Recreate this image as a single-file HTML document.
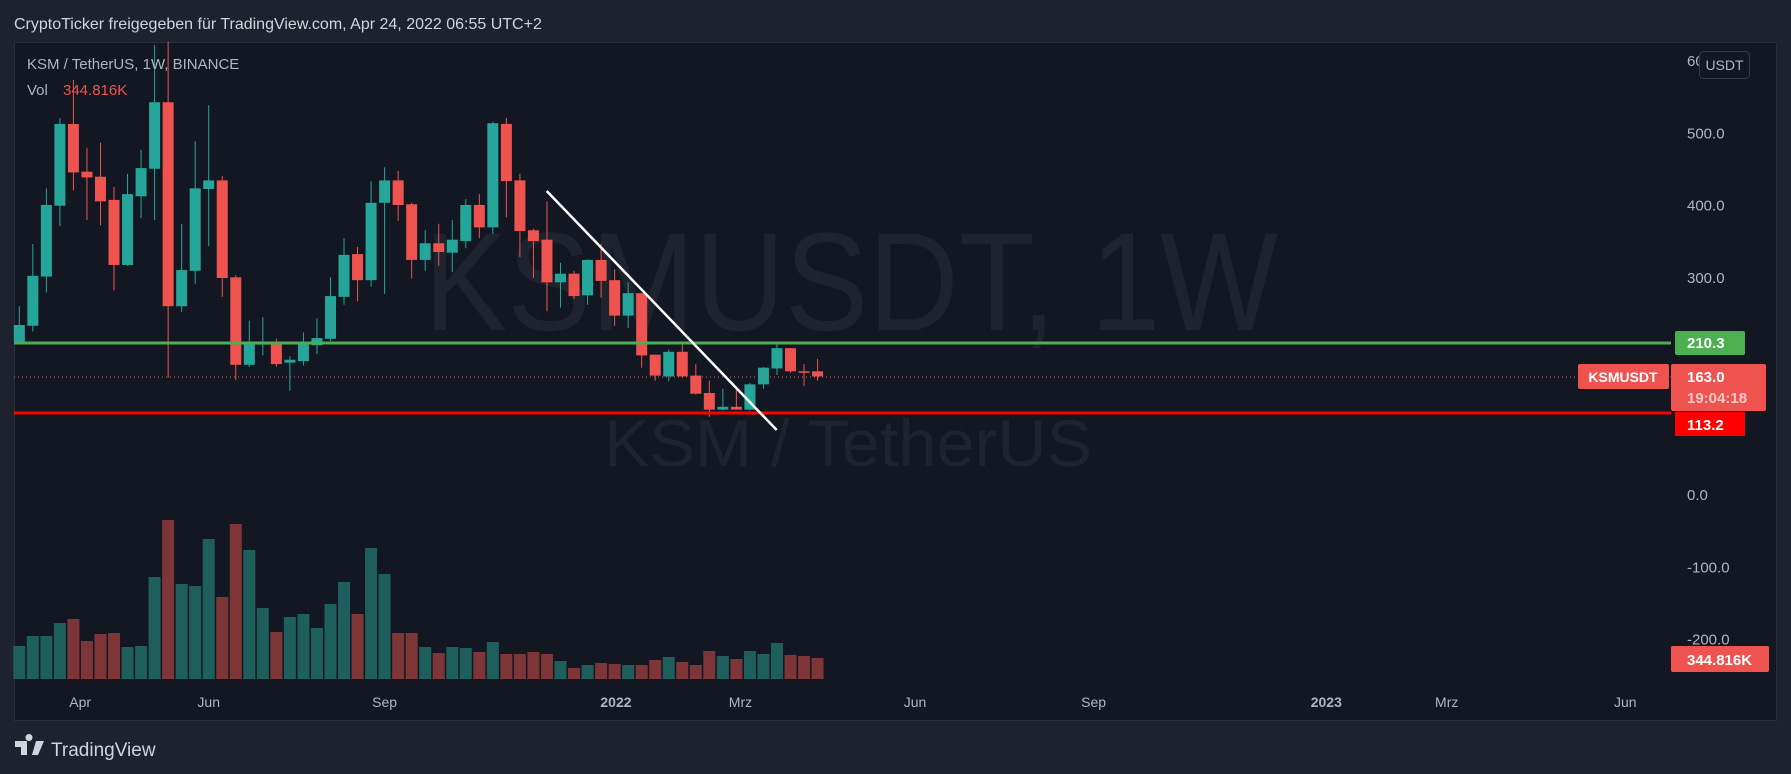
<!DOCTYPE html>
<html><head><meta charset="utf-8"><style>
html,body{margin:0;padding:0;background:#1e222d;width:1791px;height:774px;overflow:hidden;font-family:"Liberation Sans",sans-serif}
svg{position:absolute;left:0;top:0}
</style></head><body>
<svg id="chart" width="1791" height="774" viewBox="0 0 1791 774" xmlns="http://www.w3.org/2000/svg">
<rect x="0" y="0" width="1791" height="774" fill="#1e222d"/>
<text x="14" y="29" fill="#d1d4dc" font-size="16">CryptoTicker freigegeben für TradingView.com, Apr 24, 2022 06:55 UTC+2</text>
<rect x="14.5" y="42.5" width="1762" height="678" fill="#131722" stroke="#2a2e39"/>
<text x="424" y="330" fill="#1f232e" font-size="140" textLength="854" lengthAdjust="spacingAndGlyphs">KSMUSDT, 1W</text>
<text x="604" y="466" fill="#1f232e" font-size="66" textLength="488" lengthAdjust="spacingAndGlyphs">KSM / TetherUS</text>
<g id="vol"></g>
<g id="candles"></g>
<line x1="14" y1="377" x2="1671" y2="377" stroke="#ef5350" stroke-width="1" stroke-dasharray="1,3" id="lastline"/>
<line x1="14" y1="343" x2="1671" y2="343" stroke="#4caf50" stroke-width="3" id="greenline"/>
<line x1="14" y1="413" x2="1671" y2="413" stroke="#ff0000" stroke-width="3" id="redline"/>
<line x1="546.7" y1="191" x2="776.7" y2="430" stroke="#ffffff" stroke-width="2.5"/>
<g id="yaxis"></g>
<g id="xaxis"></g>
<text x="27" y="69" fill="#b2b5be" font-size="15">KSM / TetherUS, 1W, BINANCE</text>
<text x="27" y="95" fill="#b2b5be" font-size="15">Vol</text>
<text x="63" y="95" fill="#ef5350" font-size="15">344.816K</text>
<rect x="1699.5" y="51.5" width="50" height="27" rx="4" fill="#131722" stroke="#363a45"/>
<text x="1724.5" y="70" fill="#b2b5be" font-size="14" text-anchor="middle">USDT</text>
<rect x="1675" y="331" width="70" height="24" rx="2" fill="#4caf50"/>
<text x="1687" y="348" fill="#ffffff" font-size="15" font-weight="bold">210.3</text>
<rect x="1578" y="364" width="91" height="25" rx="2" fill="#ef5350"/>
<text x="1623" y="382" fill="#ffffff" font-size="14" font-weight="bold" text-anchor="middle">KSMUSDT</text>
<rect x="1671" y="364" width="95" height="47" rx="2" fill="#ef5350"/>
<text x="1687" y="382" fill="#ffffff" font-size="15" font-weight="bold">163.0</text>
<text x="1687" y="403" fill="#f8c8c7" font-size="15" font-weight="bold">19:04:18</text>
<rect x="1675" y="412" width="70" height="24" fill="#ff0000"/>
<text x="1687" y="430" fill="#ffffff" font-size="15" font-weight="bold">113.2</text>
<rect x="1671" y="646" width="98" height="26" rx="2" fill="#ef5350"/>
<text x="1687" y="665" fill="#ffffff" font-size="15" font-weight="bold">344.816K</text>
<g>
<path d="M15 741h12v14h-6v-8h-6z M29 741a3.5 3.5 0 1 1 0.01 0z M36 741h8l-6 14h-6z" fill="#d1d4dc"/>
<text x="51" y="756" fill="#d1d4dc" font-size="19">TradingView</text>
</g>
</svg>
<script>
const opens  =[212,234,302,400,513,447,440,408,318,413,451,543,261,310,423,435,301,180,208,210,183,185,207,216,274,333,297,404,435,402,325,348,335,351,401,370,513,435,366,353,294,306,276,325,297,248,279,194,164,198,165,141,118,122,118,153,175,203,171,171];
const closes =[235,303,401,513,446,439,406,318,416,452,543,261,311,424,435,300,180,210,210,181,187,210,217,275,332,297,404,435,401,325,348,336,353,401,370,514,434,365,351,294,306,275,325,296,248,279,193,165,198,164,140,118,122,118,153,176,203,171,170,164];
const highs  =[261,347,424,521,574,480,487,426,444,477,622,627,375,489,539,441,304,241,246,216,192,225,244,301,355,343,434,453,448,404,366,375,380,409,416,516,521,444,368,406,321,310,326,347,312,294,279,194,201,208,181,158,147,146,155,177,209,203,181,188];
const lows   =[210,226,280,372,421,380,373,283,317,383,380,162,253,292,344,274,159,177,193,177,144,179,195,213,263,268,288,278,379,299,310,317,308,341,355,361,384,329,300,254,259,271,263,273,234,231,176,158,157,162,139,108,117,118,117,147,166,169,151,158];
const volumesK=[541,705,705,918,984,623,738,754,525,541,1673,2608,1558,1525,2296,1345,2542,2116,1164,771,1017,1066,836,1230,1591,1066,2148,1722,754,754,525,426,525,508,443,607,410,410,443,410,295,180,230,262,246,230,230,312,361,279,230,459,377,328,459,410,590,394,377,345];
const volUp=[1,1,1,1,0,0,0,0,1,1,1,0,1,1,1,0,0,1,1,0,1,1,1,1,1,0,1,1,0,0,1,0,1,1,0,1,0,0,0,0,1,0,1,0,0,1,0,0,1,0,0,0,1,0,1,1,1,0,0,0];
const priceTicks=[600,500,400,300,0,-100,-200];
const timeLabels=["Apr","Jun","Sep","2022","Mrz","Jun","Sep","2023","Mrz","Jun"];
const timeLabelWeeks=[4.5,14.0,27.0,44.1,53.3,66.2,79.4,96.6,105.5,118.7];

const NS="http://www.w3.org/2000/svg";
function xScale(i){return 19.3+13.53*i;}
function yScale(v){return 495-0.7233*v;}
function vScale(k){return 679-k/16.4;}
function mk(tag,attrs,parent){const e=document.createElementNS(NS,tag);for(const k in attrs)e.setAttribute(k,attrs[k]);parent.appendChild(e);return e;}
const cg=document.getElementById('candles'), vg=document.getElementById('vol');
for(let i=0;i<opens.length;i++){
  const up=closes[i]>=opens[i];
  const col=up?'#26a69a':'#ef5350';
  const x=xScale(i);
  const w=mk('line',{x1:x,x2:x,y1:yScale(highs[i]),y2:yScale(lows[i]),stroke:col,'stroke-width':1},cg);
  
  
  const t=yScale(Math.max(opens[i],closes[i])), b=yScale(Math.min(opens[i],closes[i]));
  const r=mk('rect',{x:x-5.5,y:t,width:11,height:Math.max(1.5,b-t),fill:col},cg);
  
  
  const vt=vScale(volumesK[i]);
  const vb=mk('rect',{x:x-6,y:vt,width:12,height:679-vt,fill:volUp[i]?'#1e5e5c':'#7e3538'},vg);
  
  
}
const ya=document.getElementById('yaxis');
priceTicks.forEach(v=>{
  const t=mk('text',{x:1687,y:yScale(v)+5,fill:'#b2b5be','font-size':15},ya);
  t.textContent=v.toFixed(1);
  
  
});
const xa=document.getElementById('xaxis');
timeLabels.forEach((s,j)=>{
  const t=mk('text',{x:xScale(timeLabelWeeks[j]),y:707,fill:'#b2b5be','font-size':14,'text-anchor':'middle','font-weight':(s==='2022'||s==='2023')?'bold':'normal'},xa);
  t.textContent=s;
  
  
});
</script>
</body></html>
